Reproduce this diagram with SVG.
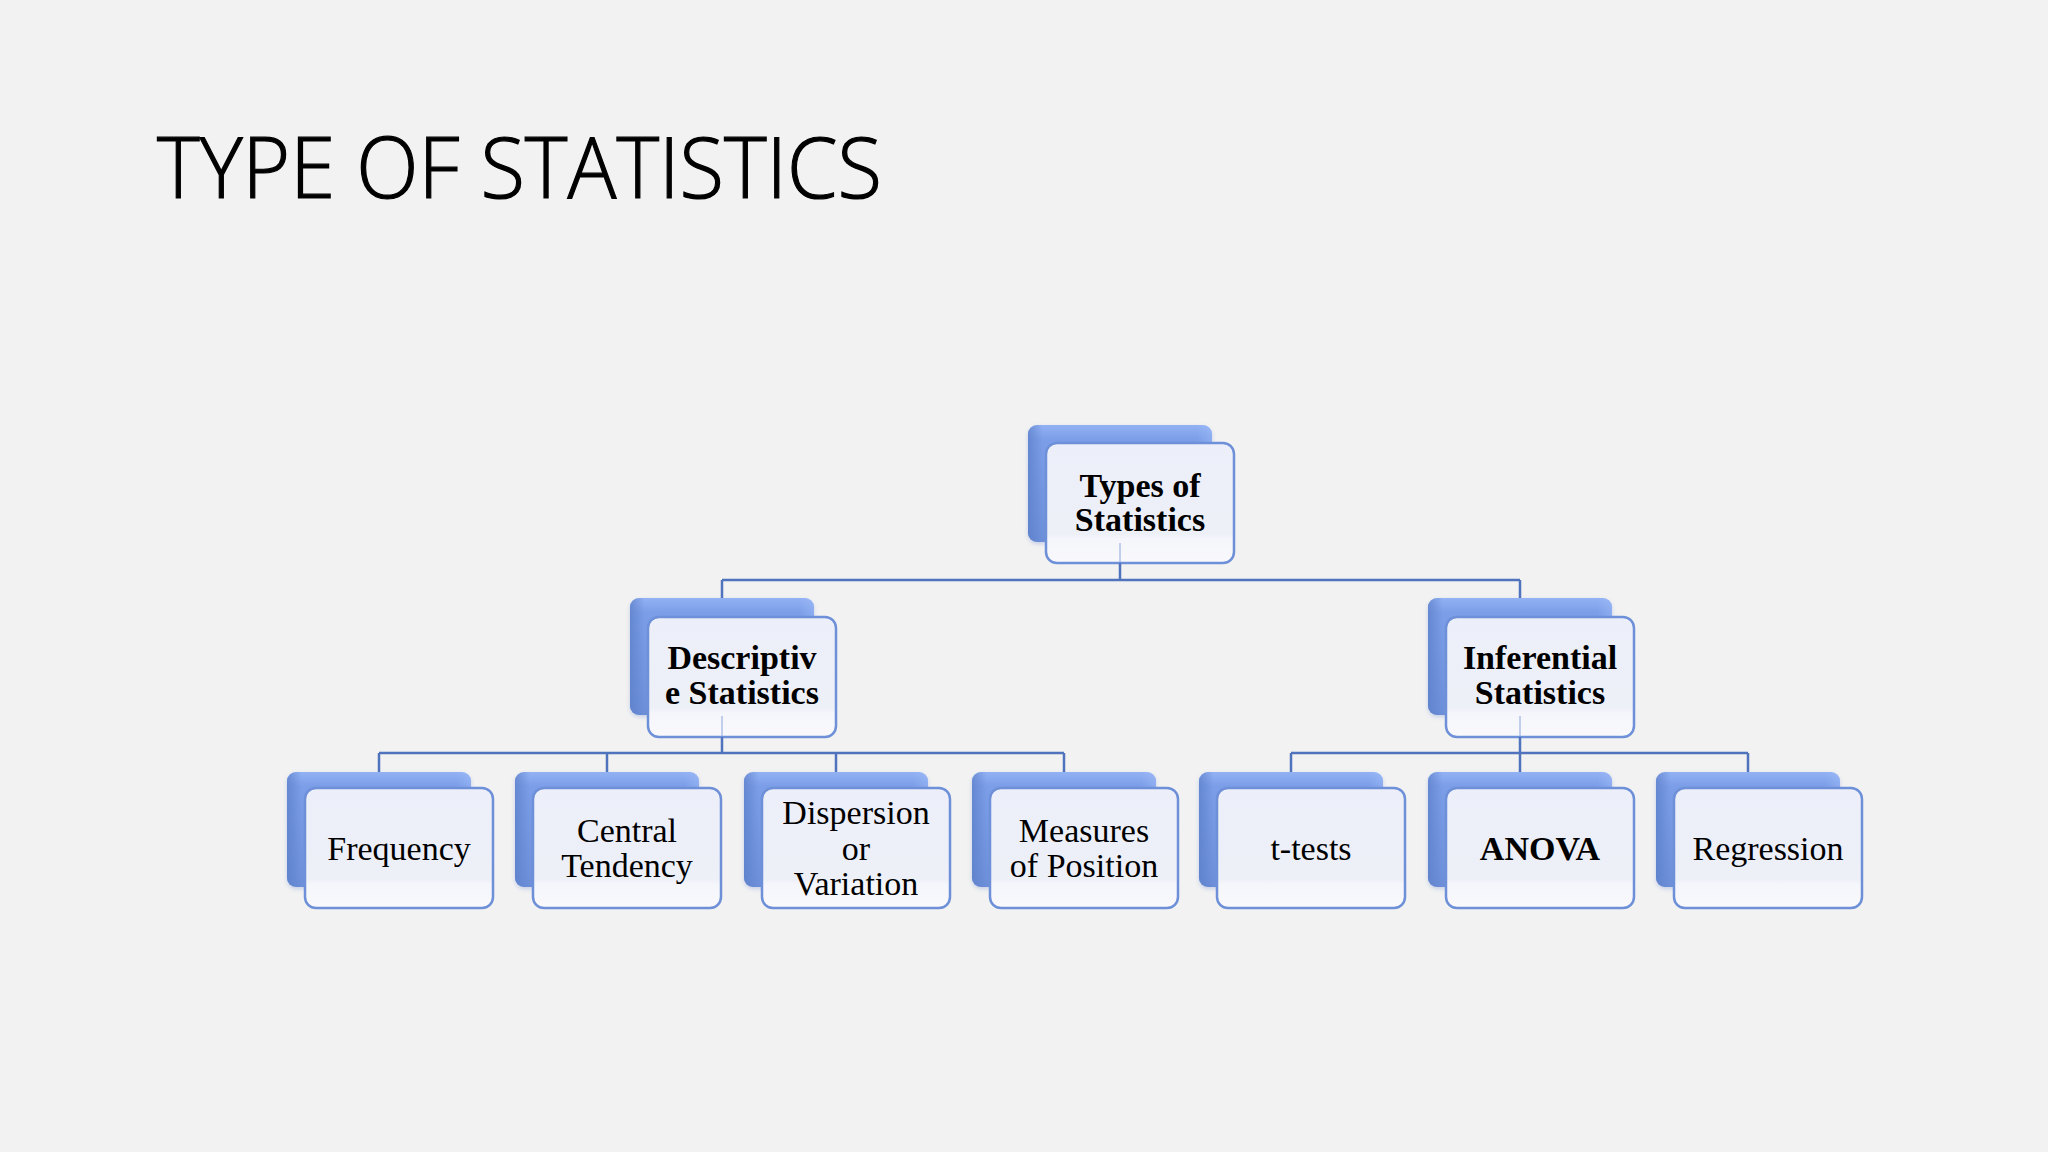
<svg xmlns="http://www.w3.org/2000/svg" width="2048" height="1152" viewBox="0 0 2048 1152">
<defs>
<linearGradient id="backG" x1="0" y1="0" x2="0" y2="1">
<stop offset="0" stop-color="#93b2f4"/>
<stop offset="0.12" stop-color="#7c9ee8"/>
<stop offset="1" stop-color="#6d8fd9"/>
</linearGradient>
<linearGradient id="backEdge" x1="0" y1="0" x2="1" y2="0">
<stop offset="0" stop-color="#5b7ec8" stop-opacity="0.7"/>
<stop offset="0.08" stop-color="#5b7ec8" stop-opacity="0"/>
<stop offset="0.92" stop-color="#9fbcf8" stop-opacity="0"/>
<stop offset="1" stop-color="#9fbcf8" stop-opacity="0.5"/>
</linearGradient>
<linearGradient id="frontG" x1="0" y1="0" x2="0" y2="1">
<stop offset="0" stop-color="#eceef9"/>
<stop offset="0.76" stop-color="#eef0f8"/>
<stop offset="0.8" stop-color="#f5f6fb"/>
<stop offset="1" stop-color="#f9f9fc"/>
</linearGradient>
<filter id="sh" x="-10%" y="-10%" width="130%" height="130%">
<feGaussianBlur stdDeviation="2"/>
</filter>
</defs>
<style>
.bg{fill:#f2f2f2}
.back{fill:url(#backG)}
.edge{fill:url(#backEdge)}
.bsh{fill:#6f8fcf;opacity:0.35;filter:url(#sh)}
.front{fill:url(#frontG);stroke:#6e90d8;stroke-width:2.5}
.lbl{font-family:"Liberation Serif","Times New Roman",serif;font-size:34px;fill:#000;text-anchor:middle}
.b{font-weight:bold}
.conn{fill:none;stroke:#4f74bd;stroke-width:2.5}
.ghost{fill:none;stroke:#8aa6dc;stroke-width:2;opacity:0.5}
.title{font-family:"Open Sans","Noto Sans","Liberation Sans",sans-serif;font-weight:300;font-size:84px;fill:#000;stroke:#000;stroke-width:1.2}
</style>
<rect class="bg" x="0" y="0" width="2048" height="1152"/>
<text class="title" x="157" y="198" textLength="725" lengthAdjust="spacingAndGlyphs">TYPE OF STATISTICS</text>

<g id="node-types">
<rect class="bsh" x="1028" y="427" width="184" height="117" rx="9"/>
<rect class="back" x="1028" y="425" width="184" height="117" rx="9"/>
<rect class="edge" x="1028" y="425" width="184" height="117" rx="9"/>
<rect class="front" x="1046" y="443" width="188" height="120" rx="11"/>
<text class="lbl b" x="1140" y="497">Types of</text>
<text class="lbl b" x="1140" y="531">Statistics</text>
</g>

<g id="node-descriptive">
<rect class="bsh" x="630" y="600" width="184" height="117" rx="9"/>
<rect class="back" x="630" y="598" width="184" height="117" rx="9"/>
<rect class="edge" x="630" y="598" width="184" height="117" rx="9"/>
<rect class="front" x="648" y="617" width="188" height="120" rx="11"/>
<text class="lbl b" x="742" y="669">Descriptiv</text>
<text class="lbl b" x="742" y="704">e Statistics</text>
</g>

<g id="node-inferential">
<rect class="bsh" x="1428" y="600" width="184" height="117" rx="9"/>
<rect class="back" x="1428" y="598" width="184" height="117" rx="9"/>
<rect class="edge" x="1428" y="598" width="184" height="117" rx="9"/>
<rect class="front" x="1446" y="617" width="188" height="120" rx="11"/>
<text class="lbl b" x="1540" y="669">Inferential</text>
<text class="lbl b" x="1540" y="704">Statistics</text>
</g>

<g id="node-frequency">
<rect class="bsh" x="287" y="774" width="184" height="115" rx="9"/>
<rect class="back" x="287" y="772" width="184" height="115" rx="9"/>
<rect class="edge" x="287" y="772" width="184" height="115" rx="9"/>
<rect class="front" x="305" y="788" width="188" height="120" rx="11"/>
<text class="lbl" x="399" y="860">Frequency</text>
</g>

<g id="node-central">
<rect class="bsh" x="515" y="774" width="184" height="115" rx="9"/>
<rect class="back" x="515" y="772" width="184" height="115" rx="9"/>
<rect class="edge" x="515" y="772" width="184" height="115" rx="9"/>
<rect class="front" x="533" y="788" width="188" height="120" rx="11"/>
<text class="lbl" x="627" y="842">Central</text>
<text class="lbl" x="627" y="877">Tendency</text>
</g>

<g id="node-dispersion">
<rect class="bsh" x="744" y="774" width="184" height="115" rx="9"/>
<rect class="back" x="744" y="772" width="184" height="115" rx="9"/>
<rect class="edge" x="744" y="772" width="184" height="115" rx="9"/>
<rect class="front" x="762" y="788" width="188" height="120" rx="11"/>
<text class="lbl" x="856" y="824">Dispersion</text>
<text class="lbl" x="856" y="860">or</text>
<text class="lbl" x="856" y="895">Variation</text>
</g>

<g id="node-measures">
<rect class="bsh" x="972" y="774" width="184" height="115" rx="9"/>
<rect class="back" x="972" y="772" width="184" height="115" rx="9"/>
<rect class="edge" x="972" y="772" width="184" height="115" rx="9"/>
<rect class="front" x="990" y="788" width="188" height="120" rx="11"/>
<text class="lbl" x="1084" y="842">Measures</text>
<text class="lbl" x="1084" y="877">of Position</text>
</g>

<g id="node-ttests">
<rect class="bsh" x="1199" y="774" width="184" height="115" rx="9"/>
<rect class="back" x="1199" y="772" width="184" height="115" rx="9"/>
<rect class="edge" x="1199" y="772" width="184" height="115" rx="9"/>
<rect class="front" x="1217" y="788" width="188" height="120" rx="11"/>
<text class="lbl" x="1311" y="860">t-tests</text>
</g>

<g id="node-anova">
<rect class="bsh" x="1428" y="774" width="184" height="115" rx="9"/>
<rect class="back" x="1428" y="772" width="184" height="115" rx="9"/>
<rect class="edge" x="1428" y="772" width="184" height="115" rx="9"/>
<rect class="front" x="1446" y="788" width="188" height="120" rx="11"/>
<text class="lbl b" x="1540" y="860">ANOVA</text>
</g>

<g id="node-regression">
<rect class="bsh" x="1656" y="774" width="184" height="115" rx="9"/>
<rect class="back" x="1656" y="772" width="184" height="115" rx="9"/>
<rect class="edge" x="1656" y="772" width="184" height="115" rx="9"/>
<rect class="front" x="1674" y="788" width="188" height="120" rx="11"/>
<text class="lbl" x="1768" y="860">Regression</text>
</g>

<g id="connectors">
<path class="ghost" d="M1120 543 V562 M722 716 V736 M1520 716 V736"/>
<path class="conn" d="M1120 563 V580 M722 580 H1520 M722 580 V598 M1520 580 V598"/>
<path class="conn" d="M722 737 V753 M379 753 H1064 M379 753 V772 M607 753 V772 M836 753 V772 M1064 753 V772"/>
<path class="conn" d="M1520 737 V753 M1291 753 H1748 M1291 753 V772 M1520 753 V772 M1748 753 V772"/>
</g>
</svg>
